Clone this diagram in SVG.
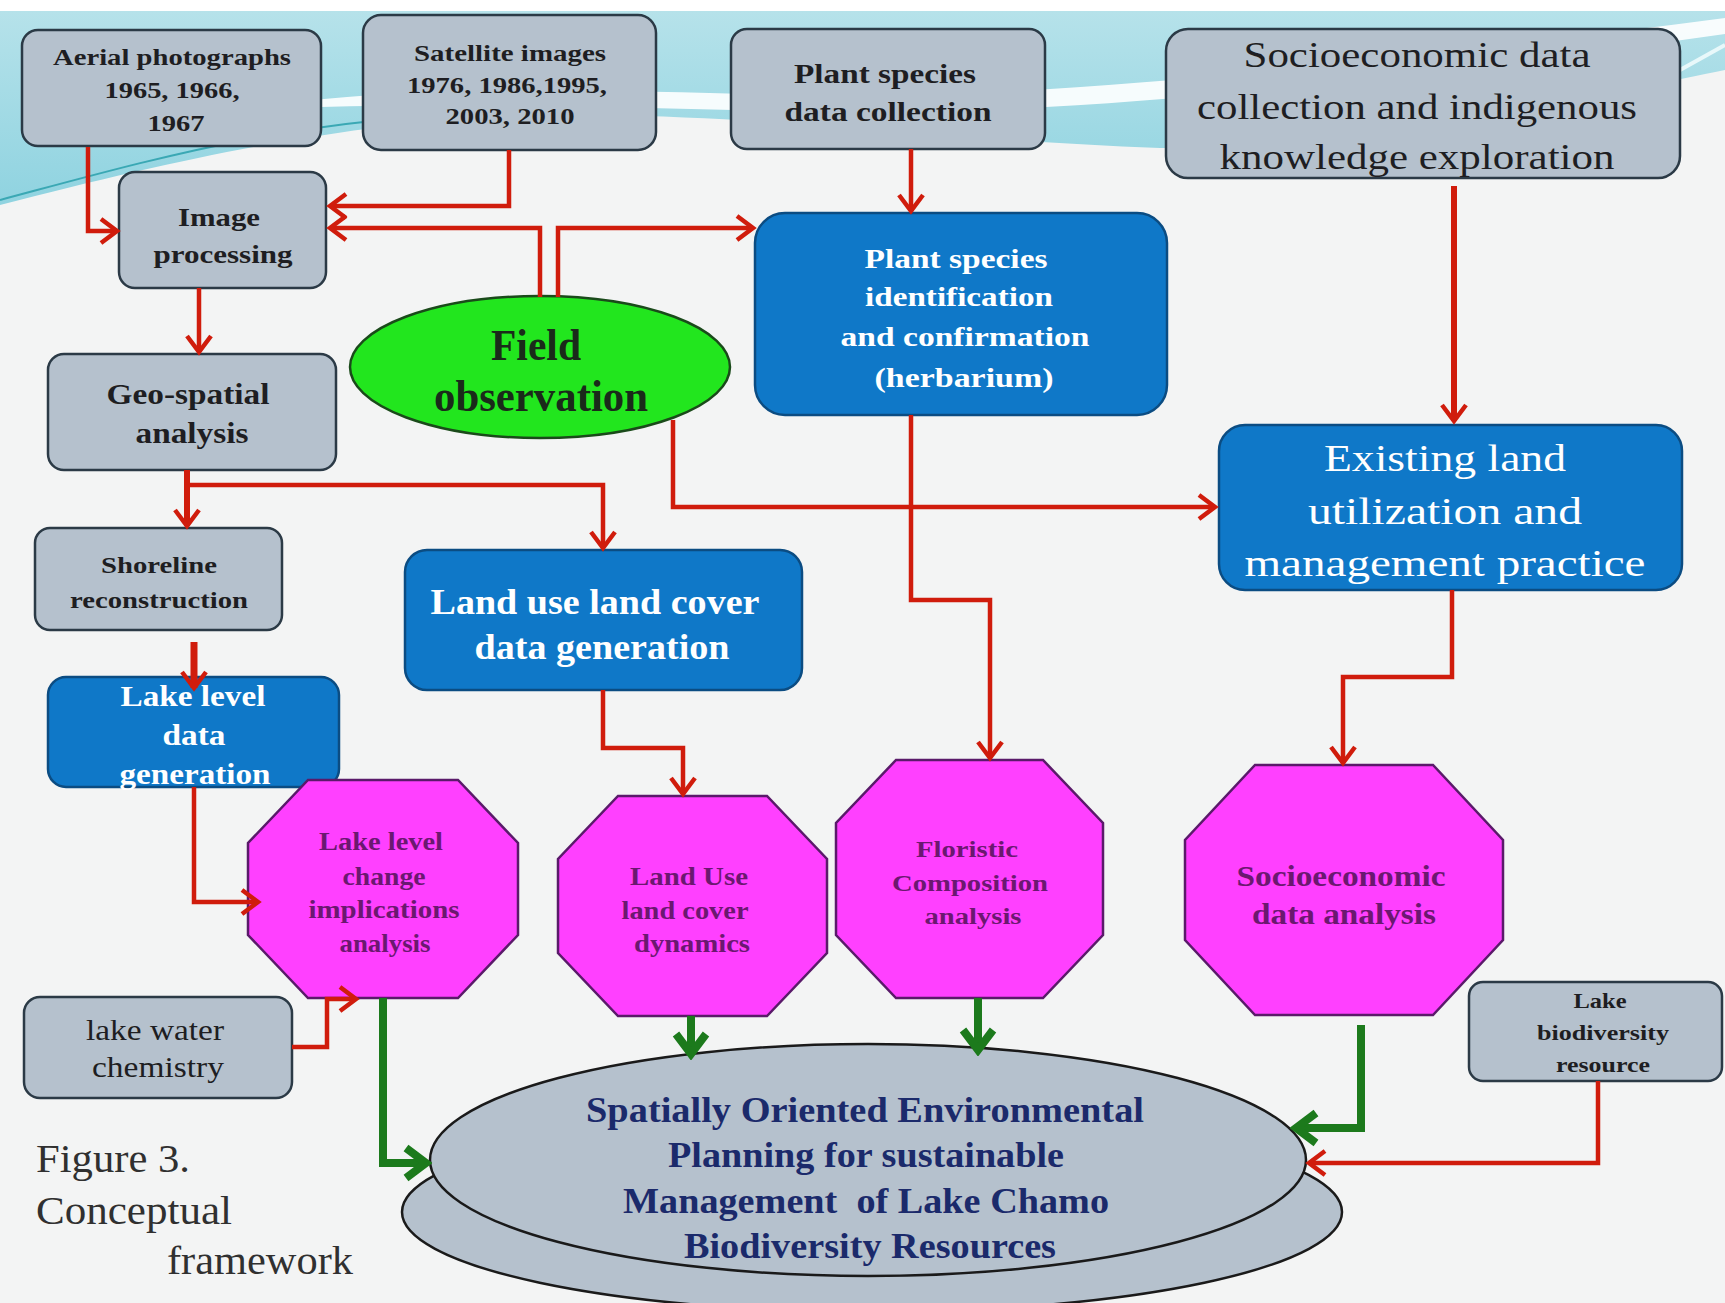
<svg xmlns="http://www.w3.org/2000/svg" width="1725" height="1303" viewBox="0 0 1725 1303">
<defs>
<style>
.gray{fill:#b5c1cd;stroke:#2b3a46;stroke-width:2.5}
.blue{fill:#0f78c8;stroke:#0b4c82;stroke-width:2.5}
.oct{fill:#ff40ff;stroke:#5a1a6a;stroke-width:2.5}
.t{font-family:"Liberation Serif","Times New Roman",serif;text-anchor:middle}
.b{font-weight:bold}
.dk{fill:#1e1e22}
.wh{fill:#ffffff}
.pu{fill:#6b1870}
.nv{fill:#1b2a6b}
.red{fill:none;stroke:#d01c0c;stroke-width:4.5;stroke-linejoin:miter}
.grn{fill:none;stroke:#1c7a1c;stroke-width:8;stroke-linejoin:miter}
</style>
<marker id="ar" markerUnits="userSpaceOnUse" viewBox="-22 -16 26 32" markerWidth="26" markerHeight="32" refX="0" refY="0" orient="auto">
<path d="M-16,-12 L0,0 L-16,12" fill="none" stroke="#d01c0c" stroke-width="4.5"/>
</marker>
<marker id="ag" markerUnits="userSpaceOnUse" viewBox="-30 -22 36 44" markerWidth="36" markerHeight="44" refX="0" refY="0" orient="auto">
<path d="M-20,-15 L0,0 L-20,15" fill="none" stroke="#1c7a1c" stroke-width="8"/>
</marker>
<linearGradient id="cy" x1="0" y1="0" x2="0" y2="1">
<stop offset="0" stop-color="#b6e2ea"/>
<stop offset="1" stop-color="#8fd3e0"/>
</linearGradient>
</defs>

<g id="background">
<rect x="0" y="0" width="1725" height="1303" fill="#f3f4f4"/>
<rect x="0" y="0" width="1725" height="11" fill="#ffffff"/>
<path d="M0,11 H1725 V70 C1600,95 1350,150 1160,148 C950,140 800,118 600,115 C420,112 250,140 0,205 Z" fill="url(#cy)"/>
<path d="M240,110 C420,80 640,92 820,96 C1050,100 1400,60 1725,18 L1725,34 C1400,80 1050,118 820,112 C640,108 430,100 240,110 Z" fill="#ffffff" opacity="0.9"/>
<path d="M0,200 C150,160 300,115 520,112" fill="none" stroke="#3aa8b4" stroke-width="2"/>
<path d="M1680,70 L1725,45" fill="none" stroke="#e8f8fa" stroke-width="4"/>
</g>

<g id="n-aerial">
<rect class="gray" x="22" y="30" width="299" height="116" rx="16"/>
<text class="t b dk" font-size="24" x="172" y="65" textLength="238" lengthAdjust="spacingAndGlyphs">Aerial photographs</text>
<text class="t b dk" font-size="24" x="172" y="98" textLength="135" lengthAdjust="spacingAndGlyphs">1965, 1966,</text>
<text class="t b dk" font-size="24" x="176" y="131" textLength="57" lengthAdjust="spacingAndGlyphs">1967</text>
</g>
<g id="n-satellite">
<rect class="gray" x="363" y="15" width="293" height="135" rx="18"/>
<text class="t b dk" font-size="24" x="510" y="61" textLength="192" lengthAdjust="spacingAndGlyphs">Satellite images</text>
<text class="t b dk" font-size="24" x="507" y="93" textLength="200" lengthAdjust="spacingAndGlyphs">1976, 1986,1995,</text>
<text class="t b dk" font-size="24" x="510" y="124" textLength="129" lengthAdjust="spacingAndGlyphs">2003, 2010</text>
</g>
<g id="n-plantdata">
<rect class="gray" x="731" y="29" width="314" height="120" rx="16"/>
<text class="t b dk" font-size="28" x="885" y="83" textLength="182" lengthAdjust="spacingAndGlyphs">Plant species</text>
<text class="t b dk" font-size="28" x="888" y="121" textLength="207" lengthAdjust="spacingAndGlyphs">data collection</text>
</g>
<g id="n-socio">
<rect class="gray" x="1166" y="29" width="514" height="149" rx="22"/>
<text class="t dk" font-size="35" x="1417" y="67" textLength="347" lengthAdjust="spacingAndGlyphs">Socioeconomic data</text>
<text class="t dk" font-size="35" x="1417" y="119" textLength="440" lengthAdjust="spacingAndGlyphs">collection and indigenous</text>
<text class="t dk" font-size="35" x="1417" y="169" textLength="395" lengthAdjust="spacingAndGlyphs">knowledge exploration</text>
</g>
<g id="n-imageproc">
<rect class="gray" x="119" y="172" width="207" height="116" rx="16"/>
<text class="t b dk" font-size="26" x="219" y="226" textLength="82" lengthAdjust="spacingAndGlyphs">Image</text>
<text class="t b dk" font-size="26" x="223" y="263" textLength="139" lengthAdjust="spacingAndGlyphs">processing</text>
</g>
<g id="n-field">
<ellipse cx="540" cy="367" rx="190" ry="71" fill="#22e61e" stroke="#1a4a1a" stroke-width="2.5"/>
<text class="t b" fill="#1a2a1a" font-size="44" x="536" y="360" textLength="90" lengthAdjust="spacingAndGlyphs">Field</text>
<text class="t b" fill="#1a2a1a" font-size="44" x="541" y="411" textLength="214" lengthAdjust="spacingAndGlyphs">observation</text>
</g>
<g id="n-plantid">
<rect class="blue" x="755" y="213" width="412" height="202" rx="30"/>
<text class="t b wh" font-size="28" x="956" y="268" textLength="183" lengthAdjust="spacingAndGlyphs">Plant species</text>
<text class="t b wh" font-size="28" x="959" y="306" textLength="188" lengthAdjust="spacingAndGlyphs">identification</text>
<text class="t b wh" font-size="28" x="965" y="346" textLength="249" lengthAdjust="spacingAndGlyphs">and confirmation</text>
<text class="t b wh" font-size="28" x="964" y="387" textLength="179" lengthAdjust="spacingAndGlyphs">(herbarium)</text>
</g>
<g id="n-geo">
<rect class="gray" x="48" y="354" width="288" height="116" rx="16"/>
<text class="t b dk" font-size="29" x="188" y="404" textLength="163" lengthAdjust="spacingAndGlyphs">Geo-spatial</text>
<text class="t b dk" font-size="29" x="192" y="443" textLength="113" lengthAdjust="spacingAndGlyphs">analysis</text>
</g>
<g id="n-existing">
<rect class="blue" x="1219" y="425" width="463" height="165" rx="26"/>
<text class="t wh" font-size="38" x="1445" y="471" textLength="242" lengthAdjust="spacingAndGlyphs">Existing land</text>
<text class="t wh" font-size="38" x="1445" y="524" textLength="274" lengthAdjust="spacingAndGlyphs">utilization and</text>
<text class="t wh" font-size="38" x="1445" y="576" textLength="401" lengthAdjust="spacingAndGlyphs">management practice</text>
</g>
<g id="n-shoreline">
<rect class="gray" x="35" y="528" width="247" height="102" rx="15"/>
<text class="t b dk" font-size="23" x="159" y="573" textLength="116" lengthAdjust="spacingAndGlyphs">Shoreline</text>
<text class="t b dk" font-size="23" x="159" y="608" textLength="178" lengthAdjust="spacingAndGlyphs">reconstruction</text>
</g>
<g id="n-landuse">
<rect class="blue" x="405" y="550" width="397" height="140" rx="22"/>
<text class="t b wh" font-size="35" x="595" y="614" textLength="329" lengthAdjust="spacingAndGlyphs">Land use land cover</text>
<text class="t b wh" font-size="35" x="602" y="659" textLength="255" lengthAdjust="spacingAndGlyphs">data generation</text>
</g>
<g id="n-lakeleveldata">
<rect class="blue" x="48" y="677" width="291" height="110" rx="18"/>
<text class="t b wh" font-size="29" x="193" y="706" textLength="145" lengthAdjust="spacingAndGlyphs">Lake level</text>
<text class="t b wh" font-size="29" x="194" y="745" textLength="63" lengthAdjust="spacingAndGlyphs">data</text>
<text class="t b wh" font-size="29" x="195" y="784" textLength="151" lengthAdjust="spacingAndGlyphs">generation</text>
</g>
<g id="n-oct-lakelevel">
<polygon class="oct" points="308,780 458,780 518,843 518,935 458,998 308,998 248,935 248,843"/>
<text class="t b pu" font-size="25" x="381" y="850" textLength="124" lengthAdjust="spacingAndGlyphs">Lake level</text>
<text class="t b pu" font-size="25" x="384" y="885" textLength="83" lengthAdjust="spacingAndGlyphs">change</text>
<text class="t b pu" font-size="25" x="384" y="918" textLength="151" lengthAdjust="spacingAndGlyphs">implications</text>
<text class="t b pu" font-size="25" x="385" y="952" textLength="91" lengthAdjust="spacingAndGlyphs">analysis</text>
</g>
<g id="n-oct-landuse">
<polygon class="oct" points="618,796 767,796 827,859 827,953 767,1016 618,1016 558,953 558,859"/>
<text class="t b pu" font-size="25" x="689" y="885" textLength="118" lengthAdjust="spacingAndGlyphs">Land Use</text>
<text class="t b pu" font-size="25" x="685" y="919" textLength="127" lengthAdjust="spacingAndGlyphs">land cover</text>
<text class="t b pu" font-size="25" x="692" y="952" textLength="116" lengthAdjust="spacingAndGlyphs">dynamics</text>
</g>
<g id="n-oct-floristic">
<polygon class="oct" points="896,760 1043,760 1103,823 1103,935 1043,998 896,998 836,935 836,823"/>
<text class="t b pu" font-size="24" x="967" y="857" textLength="102" lengthAdjust="spacingAndGlyphs">Floristic</text>
<text class="t b pu" font-size="24" x="970" y="891" textLength="156" lengthAdjust="spacingAndGlyphs">Composition</text>
<text class="t b pu" font-size="24" x="973" y="924" textLength="97" lengthAdjust="spacingAndGlyphs">analysis</text>
</g>
<g id="n-oct-socio">
<polygon class="oct" points="1255,765 1433,765 1503,840 1503,940 1433,1015 1255,1015 1185,940 1185,840"/>
<text class="t b pu" font-size="29" x="1341" y="886" textLength="209" lengthAdjust="spacingAndGlyphs">Socioeconomic</text>
<text class="t b pu" font-size="29" x="1344" y="924" textLength="184" lengthAdjust="spacingAndGlyphs">data analysis</text>
</g>
<g id="n-water">
<rect class="gray" x="24" y="997" width="268" height="101" rx="16"/>
<text class="t dk" font-size="29" x="155" y="1040" textLength="138" lengthAdjust="spacingAndGlyphs">lake water</text>
<text class="t dk" font-size="29" x="158" y="1077" textLength="132" lengthAdjust="spacingAndGlyphs">chemistry</text>
</g>
<g id="n-lakebio">
<rect class="gray" x="1469" y="982" width="253" height="99" rx="14"/>
<text class="t b dk" font-size="21" x="1600" y="1008" textLength="53" lengthAdjust="spacingAndGlyphs">Lake</text>
<text class="t b dk" font-size="21" x="1603" y="1040" textLength="132" lengthAdjust="spacingAndGlyphs">biodiversity</text>
<text class="t b dk" font-size="21" x="1603" y="1072" textLength="94" lengthAdjust="spacingAndGlyphs">resource</text>
</g>
<g id="n-planning">
<ellipse cx="872" cy="1212" rx="470" ry="100" fill="#b5c1cd" stroke="#1a1a1a" stroke-width="2.5"/>
<ellipse cx="868" cy="1160" rx="438" ry="116" fill="#b5c1cd" stroke="#1a1a1a" stroke-width="2.5"/>
<text class="t b nv" font-size="35" x="865" y="1122" textLength="558" lengthAdjust="spacingAndGlyphs">Spatially Oriented Environmental</text>
<text class="t b nv" font-size="35" x="866" y="1167" textLength="396" lengthAdjust="spacingAndGlyphs">Planning for sustainable</text>
<text class="t b nv" font-size="35" x="866" y="1213" textLength="486" lengthAdjust="spacingAndGlyphs" style="white-space:pre">Management  of Lake Chamo</text>
<text class="t b nv" font-size="35" x="870" y="1258" textLength="372" lengthAdjust="spacingAndGlyphs">Biodiversity Resources</text>
</g>
<g id="caption">
<text font-family="Liberation Serif,serif" fill="#303030" font-size="39" x="36" y="1172" textLength="154" lengthAdjust="spacingAndGlyphs">Figure 3.</text>
<text font-family="Liberation Serif,serif" fill="#303030" font-size="39" x="36" y="1224" textLength="196" lengthAdjust="spacingAndGlyphs">Conceptual</text>
<text font-family="Liberation Serif,serif" fill="#303030" font-size="39" x="167" y="1274" textLength="186" lengthAdjust="spacingAndGlyphs">framework</text>
</g>

<g id="connectors">
<path class="red" d="M88,147 V231 H117" marker-end="url(#ar)"/>
<path class="red" d="M509,150 V206 H330" marker-end="url(#ar)"/>
<path class="red" d="M540,297 V228 H330" marker-end="url(#ar)"/>
<path class="red" d="M558,297 V228 H753" marker-end="url(#ar)"/>
<path class="red" d="M911,149 V211" marker-end="url(#ar)"/>
<path class="red" d="M1454,186 V421" style="stroke-width:6" marker-end="url(#ar)"/>
<path class="red" d="M199,288 V352" marker-end="url(#ar)"/>
<path class="red" d="M187,470 V526" style="stroke-width:6" marker-end="url(#ar)"/>
<path class="red" d="M187,485 H603 V548" marker-end="url(#ar)"/>
<path class="red" d="M673,420 V507 H1215" marker-end="url(#ar)"/>
<path class="red" d="M911,415 V600 H990 V758" marker-end="url(#ar)"/>
<path class="red" d="M1452,590 V677 H1343 V763" marker-end="url(#ar)"/>
<path class="red" d="M194,642 V688" style="stroke-width:7" marker-end="url(#ar)"/>
<path class="red" d="M603,690 V748 H683 V794" marker-end="url(#ar)"/>
<path class="red" d="M194,787 V902 H258" marker-end="url(#ar)"/>
<path class="red" d="M292,1047 H327 V999 H356" marker-end="url(#ar)"/>
<path class="grn" d="M383,998 V1163 H426" marker-end="url(#ag)"/>
<path class="grn" d="M691,1016 V1054" marker-end="url(#ag)"/>
<path class="grn" d="M978,998 V1050" marker-end="url(#ag)"/>
<path class="grn" d="M1361,1025 V1128 H1296" marker-end="url(#ag)"/>
<path class="red" d="M1598,1081 V1163 H1309" marker-end="url(#ar)"/>
</g>
</svg>
